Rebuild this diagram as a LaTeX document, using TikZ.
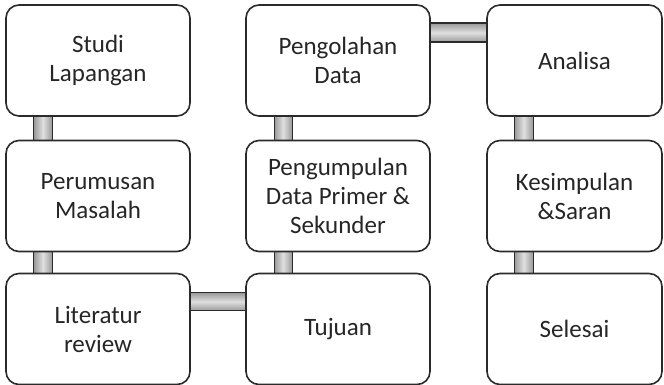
\documentclass[tikz,border=0pt]{standalone}
\usepackage{fontspec}
\setmainfont{Carlito}
\usetikzlibrary{backgrounds}
\definecolor{txtgray}{HTML}{262626}
\definecolor{linegray}{HTML}{2B2B2B}
\begin{document}
\begin{tikzpicture}[x=1pt,y=-1pt]
\tikzstyle{every node}+=[inner sep=0pt]
\tikzstyle{box}=[draw=linegray,line width=1.6pt,rounded corners=13pt,fill=white,minimum width=184pt,minimum height=111pt,align=center,text=txtgray,font=\fontsize{25}{29}\selectfont]
\tikzstyle{vbar}=[draw=linegray,line width=1.4pt,left color=gray!80,right color=gray!80,middle color=gray!25]
\tikzstyle{hbar}=[draw=linegray,line width=1.4pt,top color=gray!80,bottom color=gray!80,middle color=gray!25]
\useasboundingbox (0,0) rectangle (664,385);
\node [box] (studi) at (98,60.5) {Studi\\Lapangan};
\node [box] (rumusan) at (98,196) {Perumusan\\Masalah};
\node [box] (literatur) at (98,329) {Literatur\\review};
\node [box] (olah) at (338,60.5) {Pengolahan\\Data};
\node [box] (kumpul) at (338,196) {Pengumpulan\\Data Primer \&\\Sekunder};
\node [box] (tujuan) at (338,329) {Tujuan};
\node [box,minimum width=175pt] (analisa) at (574.5,60.5) {Analisa};
\node [box,minimum width=175pt] (simpul) at (574.5,196) {Kesimpulan\\\&Saran};
\node [box,minimum width=175pt] (selesai) at (574.5,329) {Selesai};
\begin{scope}[on background layer]
\draw [vbar] ([xshift=28.5pt,yshift=3pt]studi.south west) rectangle ([xshift=47pt,yshift=-3pt]rumusan.north west);
\draw [vbar] ([xshift=28.5pt,yshift=3pt]rumusan.south west) rectangle ([xshift=47pt,yshift=-3pt]literatur.north west);
\draw [vbar] ([xshift=29pt,yshift=3pt]kumpul.south west) rectangle ([xshift=47pt,yshift=-3pt]tujuan.north west);
\draw [vbar] ([xshift=29pt,yshift=3pt]olah.south west) rectangle ([xshift=47pt,yshift=-3pt]kumpul.north west);
\draw [vbar] ([xshift=28pt,yshift=3pt]analisa.south west) rectangle ([xshift=47pt,yshift=-3pt]simpul.north west);
\draw [vbar] ([xshift=28pt,yshift=3pt]simpul.south west) rectangle ([xshift=47pt,yshift=-3pt]selesai.north west);
\draw [hbar] ([xshift=-3pt,yshift=-19pt]olah.north east) rectangle ([xshift=3pt,yshift=-38pt]analisa.north west);
\draw [hbar] ([xshift=-3pt,yshift=-20pt]literatur.north east) rectangle ([xshift=3pt,yshift=-38pt]tujuan.north west);
\end{scope}
\end{tikzpicture}
\end{document}
